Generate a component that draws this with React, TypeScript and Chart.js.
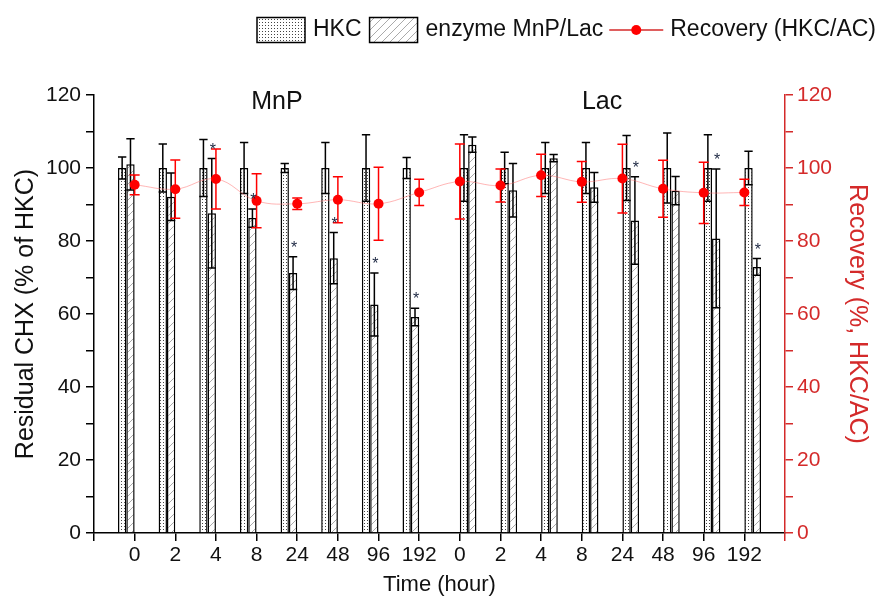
import React, { useEffect, useRef } from 'react';
import { Chart, registerables } from 'chart.js';

Chart.register(...registerables);

// ---------- data ----------
const timeLabels = ['0', '2', '4', '8', '24', '48', '96', '192'];
const groupNames = ['MnP', 'Lac'];
const categories = [...timeLabels, ...timeLabels];

const hkcMean = [100, 100, 100, 100, 100, 100, 100, 100, 100, 100, 100, 100, 100, 100, 100, 100];
const hkcErr = [3, 6.6, 7.8, 7, 1.2, 7, 9.1, 2.9, 9.1, 4.3, 7, 7, 8.9, 9.6, 9.1, 4.6];
const enzMean = [101, 92.1, 87.6, 86.3, 71.2, 75.3, 62.6, 59.2, 106.4, 93.9, 102.7, 94.7, 85.6, 93.8, 80.7, 72.9];
const enzErr = [7, 6.5, 15, 2.5, 4.5, 7, 8.6, 2.4, 2.1, 7.3, 1, 4.1, 12, 3.9, 19, 2.3];
const recMean = [95.4, 94.2, 97, 91, 90.2, 91.3, 90.2, 93.3, 96.3, 95.2, 98, 96.2, 97.1, 94.3, 93.2, 93.3];
const recErr = [2.7, 8, 8.2, 7.4, 1.6, 6.3, 10, 3.6, 10.3, 4.5, 5.8, 5.6, 9.4, 7.8, 8.4, 3.6];
const significant = [false, false, true, true, true, true, true, true, false, false, false, false, true, false, true, true];

const yTicksMax = 120;

// ---------- styling ----------
const FONT = "'Liberation Sans', Arial, sans-serif";
const AXIS_RED = '#d42a2a';
const POINT_RED = '#ff0000';
const GROUP_SHIFT = 0.205; // half bar-group width: MnP groups sit left of the tick, Lac groups right
const N = categories.length;
const perGroup = timeLabels.length;

function tickPos(i: number) {
  return i + 1;
}
function barPos(i: number) {
  return i < perGroup ? tickPos(i) - GROUP_SHIFT : tickPos(i) + GROUP_SHIFT;
}

function makeDotPattern(): CanvasPattern | string {
  const c = document.createElement('canvas');
  c.width = 3;
  c.height = 3;
  const g = c.getContext('2d')!;
  g.fillStyle = '#ffffff';
  g.fillRect(0, 0, 3, 3);
  g.fillStyle = '#444';
  g.fillRect(1, 1, 1, 1);
  const p = g.createPattern(c, 'repeat');
  return p || '#fff';
}

function makeHatchPattern(): CanvasPattern | string {
  const s = 8;
  const c = document.createElement('canvas');
  c.width = s;
  c.height = s;
  const g = c.getContext('2d')!;
  g.fillStyle = '#ffffff';
  g.fillRect(0, 0, s, s);
  g.strokeStyle = '#aaaaaa';
  g.lineWidth = 1;
  g.beginPath();
  g.moveTo(-1, s + 1);
  g.lineTo(s + 1, -1);
  g.moveTo(-1, 1);
  g.lineTo(1, -1);
  g.moveTo(s - 1, s + 1);
  g.lineTo(s + 1, s - 1);
  g.stroke();
  const p = g.createPattern(c, 'repeat');
  return p || '#fff';
}

export default function App() {
  const ref = useRef<HTMLCanvasElement>(null);

  useEffect(() => {
    const canvas = ref.current!;
    const dotPattern = makeDotPattern();
    const hatchPattern = makeHatchPattern();

    const errorBars = {
      id: 'errorBars',
      afterDatasetDraw(chart: any, args: any) {
        const idx = args.index;
        if (idx !== 0 && idx !== 1) return;
        const ctx = chart.ctx;
        const y = chart.scales.y;
        const means = idx === 0 ? hkcMean : enzMean;
        const errs = idx === 0 ? hkcErr : enzErr;
        const meta = chart.getDatasetMeta(idx);
        ctx.save();
        ctx.strokeStyle = '#000';
        ctx.lineWidth = 1.5;
        meta.data.forEach((el: any, i: number) => {
          const x = el.x;
          const hw = el.width / 2;
          const top = y.getPixelForValue(means[i] + errs[i]);
          const bot = y.getPixelForValue(means[i] - errs[i]);
          ctx.beginPath();
          ctx.moveTo(x, top);
          ctx.lineTo(x, bot);
          ctx.moveTo(x - hw, top);
          ctx.lineTo(x + hw, top);
          ctx.moveTo(x - hw, bot);
          ctx.lineTo(x + hw, bot);
          ctx.stroke();
        });
        ctx.restore();
      },
      beforeDatasetDraw(chart: any, args: any) {
        if (args.index !== 2) return;
        const ctx = chart.ctx;
        const y2 = chart.scales.y2;
        const meta = chart.getDatasetMeta(2);
        ctx.save();
        ctx.strokeStyle = POINT_RED;
        ctx.lineWidth = 1.5;
        meta.data.forEach((el: any, i: number) => {
          const x = el.x;
          const hw = 5;
          const top = y2.getPixelForValue(recMean[i] + recErr[i]);
          const bot = y2.getPixelForValue(recMean[i] - recErr[i]);
          ctx.beginPath();
          ctx.moveTo(x, top);
          ctx.lineTo(x, bot);
          ctx.moveTo(x - hw, top);
          ctx.lineTo(x + hw, top);
          ctx.moveTo(x - hw, bot);
          ctx.lineTo(x + hw, bot);
          ctx.stroke();
        });
        ctx.restore();
      },
    };

    const annotations = {
      id: 'annotations',
      afterDraw(chart: any) {
        const ctx = chart.ctx;
        const xs = chart.scales.x;
        const y = chart.scales.y;
        ctx.save();
        // group titles
        ctx.fillStyle = '#111';
        ctx.font = `25px ${FONT}`;
        ctx.textAlign = 'center';
        ctx.textBaseline = 'middle';
        groupNames.forEach((g, gi) => {
          const first = tickPos(gi * perGroup);
          const last = tickPos(gi * perGroup + perGroup - 1);
          ctx.fillText(g, xs.getPixelForValue((first + last) / 2), y.getPixelForValue(118));
        });
        // significance stars
        const meta = chart.getDatasetMeta(1);
        ctx.font = `16px ${FONT}`;
        ctx.fillStyle = '#1c2742';
        ctx.textBaseline = 'alphabetic';
        meta.data.forEach((el: any, i: number) => {
          if (!significant[i]) return;
          const top = y.getPixelForValue(enzMean[i] + enzErr[i]);
          ctx.fillText('*', el.x + 1, top - 4);
        });

        // legend
        const ly = 30;
        ctx.font = `23px ${FONT}`;
        ctx.textBaseline = 'middle';
        ctx.textAlign = 'left';
        const boxW = 48;
        const boxH = 25;
        const lineW = 54;
        const t1 = 'HKC';
        const t2 = 'enzyme MnP/Lac';
        const t3 = 'Recovery (HKC/AC)';
        const w1 = ctx.measureText(t1).width;
        const w2 = ctx.measureText(t2).width;
        let lx = 257;
        const drawBox = (fill: any) => {
          ctx.fillStyle = fill;
          ctx.fillRect(lx, ly - boxH / 2, boxW, boxH);
          ctx.strokeStyle = '#000';
          ctx.lineWidth = 1.5;
          ctx.strokeRect(lx, ly - boxH / 2, boxW, boxH);
        };
        drawBox(dotPattern);
        lx += boxW + 8;
        ctx.fillStyle = '#111';
        ctx.fillText(t1, lx, ly);
        lx += w1 + 8;
        drawBox(hatchPattern);
        lx += boxW + 8;
        ctx.fillStyle = '#111';
        ctx.fillText(t2, lx, ly);
        lx += w2 + 6;
        ctx.strokeStyle = AXIS_RED;
        ctx.lineWidth = 1.5;
        ctx.beginPath();
        ctx.moveTo(lx, ly);
        ctx.lineTo(lx + lineW, ly);
        ctx.stroke();
        ctx.fillStyle = POINT_RED;
        ctx.beginPath();
        ctx.arc(lx + lineW / 2, ly, 5, 0, Math.PI * 2);
        ctx.fill();
        lx += lineW + 7;
        ctx.fillStyle = '#111';
        ctx.fillText(t3, lx, ly);
        ctx.restore();
      },
    };

    const tickFont = { family: FONT, size: 21 };

    const chart = new Chart(canvas, {
      type: 'bar',
      data: {
        datasets: [
          {
            label: 'HKC',
            data: hkcMean.map((v, i) => ({ x: barPos(i), y: v })),
            backgroundColor: dotPattern as any,
            borderColor: '#000',
            borderWidth: 1.5,
            categoryPercentage: 0.41,
            barPercentage: 1,
            yAxisID: 'y',
            order: 1,
          } as any,
          {
            label: 'enzyme MnP/Lac',
            data: enzMean.map((v, i) => ({ x: barPos(i), y: v })),
            backgroundColor: hatchPattern as any,
            borderColor: '#000',
            borderWidth: 1.5,
            categoryPercentage: 0.41,
            barPercentage: 1,
            yAxisID: 'y',
            order: 1,
          } as any,
          {
            type: 'line',
            label: 'Recovery (HKC/AC)',
            data: recMean.map((v, i) => ({ x: tickPos(i), y: v })),
            yAxisID: 'y2',
            borderColor: 'rgba(255,110,110,0.5)',
            borderWidth: 1,
            tension: 0.4,
            pointRadius: 5,
            pointBackgroundColor: POINT_RED,
            pointBorderColor: POINT_RED,
            pointBorderWidth: 0,
            order: 0,
          } as any,
        ],
      },
      options: {
        responsive: false,
        animation: false,
        layout: { padding: { top: 95, left: 0, right: 0, bottom: 0 } },
        plugins: {
          legend: { display: false },
          tooltip: { enabled: false },
        },
        scales: {
          x: {
            type: 'linear',
            min: 0,
            max: N + 1,
            offset: false,
            afterFit: (s: any) => {
              s.height = 66;
            },
            ticks: {
              stepSize: 1,
              autoSkip: false,
              maxRotation: 0,
              padding: 2,
              color: '#111',
              font: tickFont,
              callback: (v: any) => {
                const k = Math.round(Number(v));
                return k >= 1 && k <= N ? categories[k - 1] : '';
              },
            },
            grid: {
              offset: false,
              drawOnChartArea: false,
              drawTicks: true,
              tickLength: 8,
              lineWidth: 1.5,
              color: (c: any) => (c.tick && c.tick.value === N + 1 ? AXIS_RED : '#000'),
            },
            border: { display: true, color: '#000', width: 1.5 },
            title: {
              display: true,
              text: 'Time (hour)',
              color: '#111',
              font: { family: FONT, size: 22 },
              padding: { top: 0, bottom: 1 },
            },
          },
          y: {
            type: 'linear',
            position: 'left',
            min: 0,
            max: yTicksMax,
            afterFit: (s: any) => {
              s.width = 94;
            },
            ticks: {
              stepSize: 10,
              padding: 5,
              color: '#111',
              font: tickFont,
              callback: (v: any) => (Number(v) % 20 === 0 ? String(v) : ''),
            },
            grid: {
              drawOnChartArea: false,
              drawTicks: true,
              tickLength: 8,
              lineWidth: 1.5,
              color: '#000',
            },
            border: { display: true, color: '#000', width: 1.5 },
            title: {
              display: true,
              text: 'Residual CHX (% of HKC)',
              color: '#111',
              font: { family: FONT, size: 25 },
              padding: { top: 11, bottom: 0 },
            },
          },
          y2: {
            type: 'linear',
            position: 'right',
            min: 0,
            max: yTicksMax,
            afterFit: (s: any) => {
              s.width = 92;
            },
            ticks: {
              stepSize: 10,
              padding: 4,
              color: AXIS_RED,
              font: tickFont,
              callback: (v: any) => (Number(v) % 20 === 0 ? String(v) : ''),
            },
            grid: {
              drawOnChartArea: false,
              drawTicks: true,
              tickLength: 8,
              lineWidth: 1.5,
              color: AXIS_RED,
            },
            border: { display: true, color: AXIS_RED, width: 1.5 },
            title: {
              display: true,
              text: 'Recovery (%, HKC/AC)',
              color: AXIS_RED,
              font: { family: FONT, size: 25 },
              padding: { top: 5, bottom: 0 },
            },
          },
        },
      } as any,
      plugins: [errorBars, annotations],
    });

    return () => chart.destroy();
  }, []);

  return (
    <div style={{ position: 'absolute', left: 0, top: 0, width: 877, height: 599, background: '#fff' }}>
      <canvas ref={ref} width={877} height={599} style={{ display: 'block', width: 877, height: 599 }} />
    </div>
  );
}
